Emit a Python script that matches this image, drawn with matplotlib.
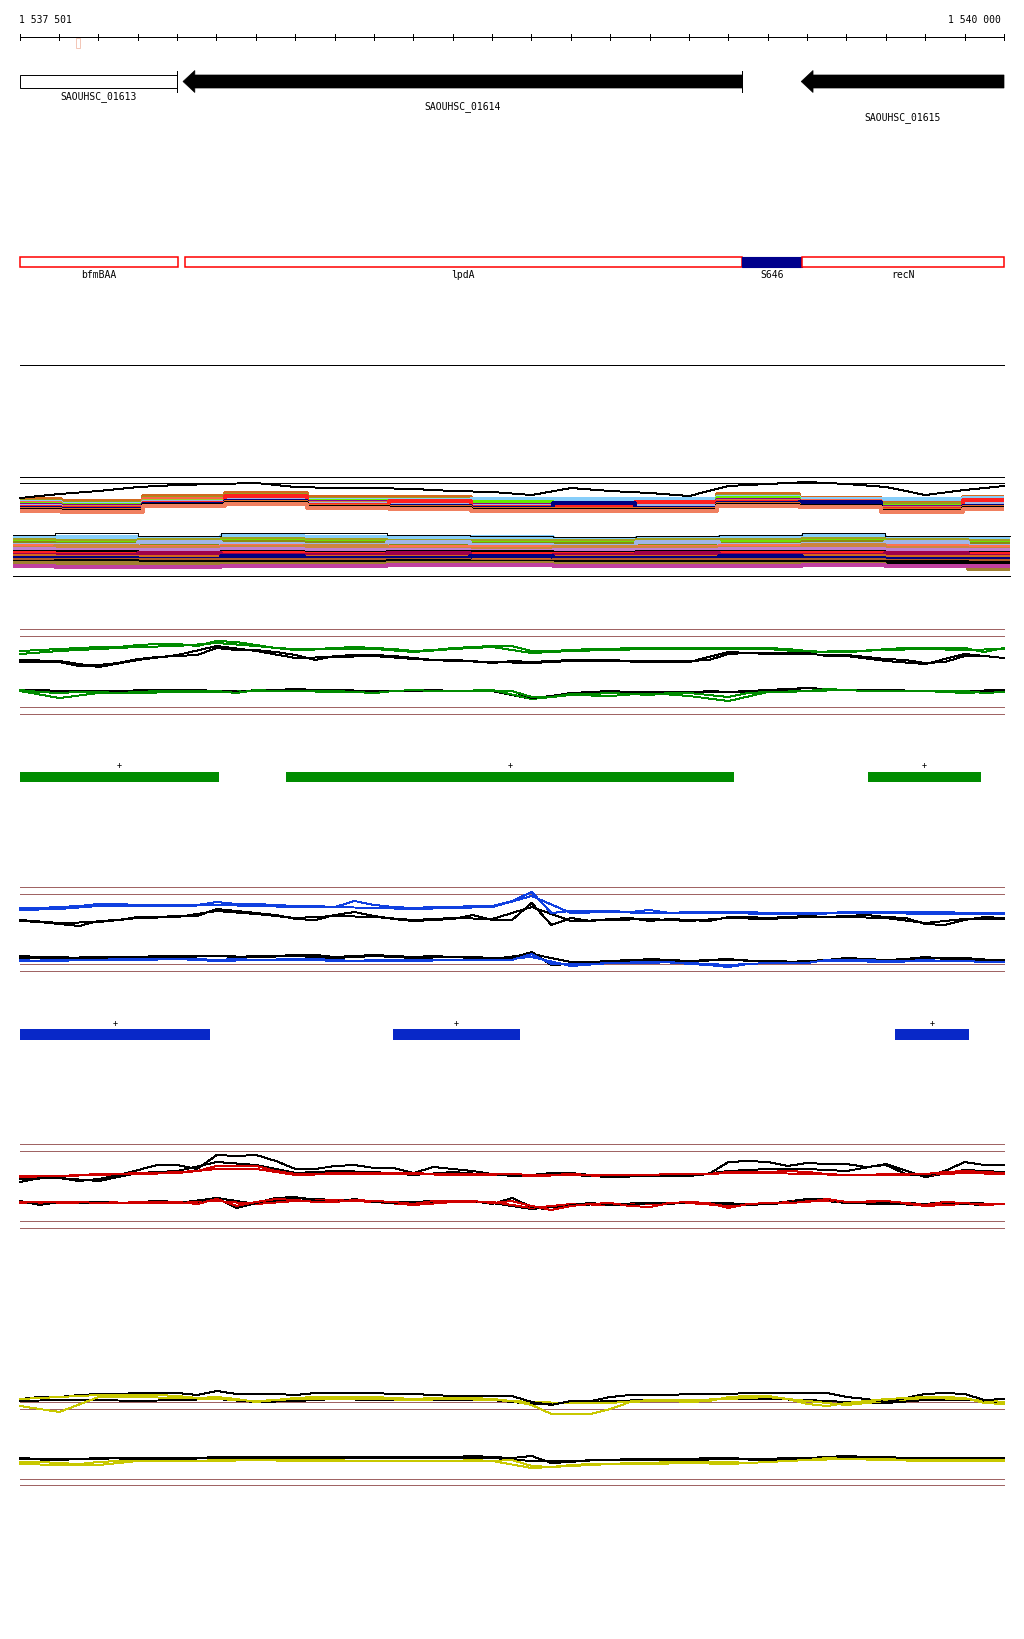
import numpy as np
import matplotlib
matplotlib.use("Agg")
import matplotlib.pyplot as plt
from matplotlib.patches import Polygon, Rectangle

plt.rcParams["lines.antialiased"] = False

# ---------------- data ----------------
START, END = 1537501, 1540000
ruler_ticks = [1537501] + list(range(1537600, 1540000, 100)) + [1540000]
ruler_labels = ["1 537 501", "1 540 000"]
marker_pos = 1537643

gene_names = ["SAOUHSC_01613", "SAOUHSC_01614", "SAOUHSC_01615"]
gene_start = [1537501, 1537915, 1539485]
gene_end = [1537900, 1539335, 1540000]
gene_kind = ["box", "arrow", "arrow"]
gene_endbar = [True, True, False]

feat_names = ["bfmBAA", "lpdA", "S646", "recN"]
feat_start = [1537501, 1537918, 1539335, 1539487]
feat_end = [1537902, 1539335, 1539487, 1540000]
feat_filled = [False, False, True, False]

green_seg_start = [1537501, 1538177, 1539655]
green_seg_end = [1538006, 1539314, 1539942]
blue_seg_start = [1537501, 1538448, 1539723]
blue_seg_end = [1537984, 1538771, 1539911]
seg_strand = ["+", "+", "+"]

# multi-sample band (row positions inside the track)
curve_top = [499, 495, 492, 488, 486, 485, 484, 488, 489, 489, 490, 492, 493,
             496, 489, 492, 494, 497, 487, 485, 483, 485, 488, 496, 491, 487]
up_chocolate = [500, 502, 497, 494, 498, 498, 500, 500, 500, 495, 499, 503, 498]
up_olive = [502, 504, 499, 496, 500, 500, 502, 502, 501, 497, 500, 505, 499]
up_skyblue = [503, 505, 500, 497, 501, 501, 500, 500, 500, 498, 500, 500, 499]
up_tomato = [504, 506, 500, 501, 502, 507, 504, 504, 508, 499, 502, 507, 505]
up_lawngreen = [505, 506, 503, 497, 502, 504, 503, 505, 506, 499, 503, 507, 503]
up_magenta = [506, 507, 505, 499, 503, 504, 506, 509, 505, 501, 506, 508, 503]
up_peru = [507, 508, 503, 500, 504, 505, 507, 507, 506, 502, 505, 509, 504]
up_steelblue = [507, 509, 503, 501, 505, 506, 507, 507, 507, 503, 505, 510, 505]
up_red = [508, 509, 504, 497, 506, 502, 508, 508, 503, 503, 506, 510, 501]
up_navy = [509, 510, 505, 502, 507, 507, 509, 504, 509, 504, 503, 511, 507]
up_orange = [510, 511, 506, 503, 507, 508, 510, 510, 510, 505, 507, 511, 508]
up_black = [511, 512, 506, 504, 508, 509, 511, 511, 511, 506, 507, 512, 509]
up_yellowgreen = [506, 508, 502, 499, 504, 504, 506, 506, 506, 501, 504, 509, 503]
up_salmon = [512, 513, 507, 505, 509, 510, 512, 512, 512, 507, 508, 513, 510]

lo_black_top = [536, 534, 537, 534, 534, 536, 537, 538, 537, 536, 534, 537, 537]
lo_skyblue = [539, 538, 539, 537, 538, 539, 538, 540, 539, 538, 537, 539, 540]
lo_olive = [541, 542, 541, 540, 541, 542, 542, 542, 541, 541, 540, 541, 542]
lo_lawngreen = [543, 544, 546, 542, 543, 546, 544, 544, 546, 543, 542, 546, 544]
lo_darkolive = [544, 545, 544, 543, 544, 545, 545, 545, 544, 545, 543, 544, 545]
lo_steelblue = [546, 546, 543, 545, 546, 543, 546, 547, 543, 546, 545, 543, 547]
lo_salmon = [547, 549, 548, 547, 549, 548, 548, 550, 548, 547, 548, 547, 548]
lo_peru = [549, 547, 549, 548, 547, 550, 550, 548, 549, 549, 546, 549, 550]
lo_orchid = [550, 551, 551, 550, 551, 551, 552, 551, 551, 550, 550, 551, 551]
lo_black = [553, 553, 554, 553, 554, 553, 553, 554, 553, 553, 553, 554, 554]
lo_red = [554, 555, 557, 554, 555, 557, 555, 555, 557, 554, 554, 557, 555]
lo_crimson = [556, 556, 554, 556, 556, 554, 557, 556, 554, 556, 556, 554, 557]
lo_chocolate = [557, 558, 558, 560, 558, 558, 560, 558, 558, 560, 557, 558, 558]
lo_navy = [559, 559, 560, 557, 559, 559, 557, 559, 559, 557, 559, 560, 560]
lo_sienna = [561, 561, 561, 561, 561, 561, 562, 561, 561, 561, 561, 562, 562]
lo_black2 = [563, 562, 563, 563, 563, 562, 563, 563, 563, 563, 563, 563, 564]
lo_olivebrown = [564, 564, 565, 565, 565, 564, 564, 565, 565, 565, 565, 567, 570]
lo_magenta = [567, 568, 568, 567, 567, 566, 566, 567, 567, 567, 566, 567, 567]

# coverage tracks: heights above track baseline (51-point and 26-point samples)
g_up_a = [63, 64, 65, 66, 67, 67, 69, 70, 70, 68, 73, 72, 69, 66, 65, 65, 66, 67, 66, 65, 63, 64, 66, 67, 68, 68,
          63, 63, 64, 65, 65, 66, 66, 66, 66, 66, 66, 66, 66, 65, 63, 62, 62, 63, 65, 66, 66, 66, 66, 62, 66]
g_up_b = [60, 63, 65, 67, 68, 71, 68, 64, 65, 65, 62, 65, 67, 61, 63, 64, 65, 65, 65, 65, 62, 63, 64, 65, 64, 65]
g_bk_a = [52, 52, 52, 48, 49, 51, 55, 57, 58, 59, 66, 64, 64, 62, 59, 54, 58, 59, 59, 58, 56, 54, 54, 53, 51, 53,
          52, 53, 54, 54, 54, 53, 53, 53, 53, 54, 60, 61, 61, 61, 61, 58, 59, 57, 55, 54, 51, 52, 58, 58, 56]
g_bk_b = [54, 53, 47, 54, 59, 68, 63, 56, 57, 58, 55, 53, 52, 51, 53, 53, 52, 52, 62, 60, 60, 58, 53, 50, 60, 56]
g_lo_a = [24, 22, 21, 22, 22, 21, 22, 23, 23, 23, 23, 21, 24, 23, 23, 23, 23, 22, 21, 23, 24, 23, 23, 23, 23, 23,
          17, 17, 20, 20, 21, 20, 19, 21, 21, 19, 17, 21, 22, 22, 23, 25, 24, 23, 23, 23, 23, 23, 23, 21, 22]
g_lo_b = [23, 16, 21, 21, 22, 22, 23, 23, 22, 23, 23, 23, 24, 15, 19, 18, 21, 18, 13, 22, 23, 24, 23, 23, 21, 23]
g_lk_a = [24, 24, 23, 23, 23, 22, 24, 24, 24, 24, 23, 22, 24, 24, 25, 24, 23, 23, 23, 23, 23, 24, 23, 23, 23, 23,
          16, 18, 21, 22, 23, 22, 22, 22, 21, 23, 22, 23, 24, 25, 26, 25, 24, 24, 24, 23, 23, 23, 23, 23, 23]
g_lk_b = [23, 22, 23, 23, 22, 23, 23, 24, 24, 23, 23, 23, 23, 15, 21, 22, 20, 22, 22, 23, 26, 24, 24, 23, 23, 24]

b_up_a = [63, 63, 64, 65, 67, 67, 66, 66, 66, 66, 69, 67, 67, 66, 65, 65, 64, 70, 66, 64, 63, 64, 64, 65, 65, 70,
          79, 58, 60, 60, 60, 59, 61, 58, 59, 59, 59, 59, 58, 58, 58, 58, 59, 59, 59, 59, 59, 59, 58, 58, 58]
b_up_b = [61, 62, 65, 65, 65, 66, 65, 64, 64, 63, 62, 63, 64, 75, 58, 59, 58, 58, 58, 57, 57, 58, 58, 57, 57, 57]
b_bk_a = [50, 49, 47, 45, 50, 51, 54, 54, 55, 55, 62, 60, 58, 56, 52, 51, 56, 59, 55, 52, 50, 51, 52, 56, 51, 51,
          68, 46, 53, 50, 52, 53, 50, 52, 51, 50, 54, 54, 53, 54, 55, 54, 55, 56, 54, 53, 47, 46, 51, 54, 53]
b_bk_b = [51, 48, 49, 53, 54, 60, 57, 53, 55, 54, 51, 53, 52, 64, 50, 51, 52, 50, 53, 52, 54, 54, 53, 48, 52, 52]
b_lo_a = [11, 10, 10, 11, 11, 12, 12, 12, 12, 12, 11, 12, 11, 11, 11, 12, 11, 10, 11, 11, 11, 11, 11, 11, 11, 11,
          17, 7, 7, 7, 8, 8, 8, 9, 7, 6, 4, 7, 8, 8, 8, 11, 11, 11, 10, 10, 11, 10, 10, 9, 9]
b_lo_b = [10, 11, 11, 11, 12, 10, 11, 12, 10, 10, 10, 11, 11, 14, 5, 8, 9, 8, 6, 8, 10, 10, 9, 10, 10, 10]
b_lk_a = [15, 14, 14, 13, 13, 14, 14, 15, 15, 15, 15, 14, 15, 15, 16, 16, 14, 15, 16, 15, 14, 15, 14, 14, 13, 13,
          19, 6, 7, 9, 10, 11, 11, 10, 10, 11, 12, 10, 9, 9, 10, 11, 13, 12, 11, 12, 14, 12, 12, 11, 11]
b_lk_b = [13, 13, 14, 13, 14, 15, 14, 15, 13, 15, 13, 14, 12, 17, 9, 9, 12, 10, 11, 10, 9, 12, 11, 13, 13, 10]

r_up_a = [52, 52, 52, 53, 54, 54, 55, 55, 56, 57, 62, 62, 62, 57, 54, 54, 55, 55, 55, 55, 55, 54, 54, 54, 54, 54,
          53, 53, 54, 53, 53, 53, 53, 54, 54, 54, 56, 56, 56, 57, 56, 54, 53, 53, 54, 54, 54, 56, 57, 56, 55]
r_up_b = [51, 52, 53, 54, 55, 59, 59, 53, 54, 54, 54, 53, 53, 52, 53, 52, 52, 53, 55, 55, 54, 53, 53, 53, 55, 54]
r_bk_a = [46, 50, 50, 47, 49, 53, 58, 63, 63, 59, 73, 72, 73, 67, 59, 59, 62, 63, 60, 60, 55, 61, 59, 57, 54, 52,
          53, 55, 55, 53, 52, 52, 52, 52, 52, 54, 66, 67, 66, 62, 65, 64, 64, 61, 63, 54, 52, 57, 66, 63, 63]
r_bk_b = [49, 50, 47, 55, 57, 66, 63, 55, 57, 56, 53, 56, 53, 52, 53, 51, 52, 52, 57, 59, 59, 57, 64, 51, 58, 56]
r_lo_a = [26, 26, 26, 26, 25, 25, 26, 26, 26, 24, 29, 22, 26, 29, 28, 26, 26, 28, 27, 26, 24, 27, 27, 27, 25, 27,
          22, 18, 22, 24, 25, 22, 21, 25, 26, 25, 20, 24, 25, 25, 26, 29, 26, 26, 27, 25, 23, 26, 25, 23, 24]
r_lo_b = [25, 25, 26, 25, 25, 27, 24, 27, 28, 26, 23, 26, 26, 20, 24, 23, 24, 25, 22, 24, 28, 26, 27, 22, 24, 24]
r_lk_a = [27, 23, 26, 26, 26, 25, 26, 27, 26, 24, 30, 20, 25, 30, 31, 27, 26, 29, 26, 25, 26, 27, 27, 27, 24, 30,
          21, 18, 23, 25, 23, 23, 25, 24, 26, 25, 25, 23, 24, 25, 29, 29, 25, 26, 26, 25, 24, 26, 24, 23, 24]
r_lk_b = [26, 26, 25, 25, 25, 30, 24, 30, 28, 27, 25, 27, 25, 19, 23, 24, 25, 25, 24, 24, 29, 25, 24, 23, 25, 24]

y_up_a = [86, 87, 88, 89, 90, 90, 90, 90, 89, 87, 88, 86, 83, 85, 87, 88, 88, 88, 88, 87, 86, 87, 87, 87, 86, 84,
          80, 71, 71, 71, 76, 83, 84, 84, 83, 84, 88, 89, 89, 86, 81, 79, 82, 84, 86, 87, 88, 88, 87, 82, 81]
y_up_b = [79, 73, 88, 88, 87, 86, 84, 86, 86, 86, 85, 86, 85, 83, 82, 82, 85, 85, 86, 88, 84, 80, 84, 87, 86, 83]
y_bk_a = [86, 88, 88, 90, 91, 91, 92, 92, 92, 90, 94, 91, 91, 91, 90, 92, 92, 92, 92, 91, 91, 90, 89, 89, 89, 89,
          83, 80, 84, 84, 88, 90, 90, 90, 91, 91, 91, 92, 92, 92, 92, 92, 88, 86, 83, 87, 91, 92, 91, 85, 86]
y_bk_b = [84, 85, 85, 84, 85, 86, 83, 84, 86, 85, 85, 85, 85, 81, 82, 84, 85, 85, 86, 86, 85, 83, 82, 85, 85, 83]
y_lo_a = [23, 23, 22, 21, 23, 24, 24, 24, 24, 24, 25, 25, 25, 25, 25, 25, 25, 24, 24, 24, 24, 24, 24, 25, 24, 25,
          19, 18, 20, 21, 21, 22, 22, 23, 23, 23, 23, 22, 23, 24, 25, 27, 26, 26, 26, 25, 25, 25, 25, 25, 25]
y_lo_b = [21, 20, 20, 24, 24, 24, 25, 24, 24, 24, 24, 24, 24, 17, 19, 21, 21, 22, 21, 23, 25, 26, 25, 24, 24, 24]
y_lk_a = [27, 26, 26, 26, 26, 27, 27, 27, 27, 27, 28, 28, 28, 28, 28, 28, 28, 28, 28, 28, 28, 28, 28, 29, 28, 27,
          29, 22, 23, 25, 25, 26, 26, 26, 26, 27, 27, 26, 26, 27, 27, 28, 29, 28, 28, 27, 27, 27, 27, 27, 27]
y_lk_b = [26, 25, 27, 26, 26, 27, 27, 26, 27, 27, 27, 27, 27, 24, 24, 25, 25, 25, 26, 25, 26, 27, 27, 26, 26, 26]

# ---------------- figure ----------------
W, H = 1024, 1640
fig = plt.figure(figsize=(W / 100, H / 100), dpi=100)
fig.patch.set_facecolor("white")

PX0, PX1 = 20, 1004
bpp = (END - START) / (PX1 - PX0)
XLIM = (START - PX0 * bpp, START + (W - PX0) * bpp)
MONO = "DejaVu Sans Mono"
FS = 7
LW1 = 0.7
BROWN = "#a06464"


def px_axes(top, bottom):
    ax = fig.add_axes([0, 1 - bottom / H, 1, (bottom - top) / H])
    ax.set_xlim(*XLIM)
    ax.axis("off")
    return ax


lay = px_axes(0, H)
lay.set_ylim(H, 0)

# ruler
lay.hlines(38, START, END, color="black", lw=LW1, antialiased=False)
lay.vlines(ruler_ticks, 35, 41, color="black", lw=LW1, antialiased=False)
lay.text(START - bpp, 20, ruler_labels[0], ha="left", va="center", family=MONO, fontsize=FS)
lay.text(END - 3 * bpp, 20, ruler_labels[1], ha="right", va="center", family=MONO, fontsize=FS)
lay.add_patch(Rectangle((marker_pos, 39), 4 * bpp, 10, fill=False, edgecolor="#f3c6b6", lw=0.7))

# genes
head = 30
label_rows = [97, 107, 118]
for name, s, e, kind, bar, ly in zip(gene_names, gene_start, gene_end, gene_kind, gene_endbar, label_rows):
    if kind == "box":
        lay.add_patch(Rectangle((s, 76), e - s, 13, facecolor="white", edgecolor="black", lw=LW1))
    else:
        pts = [(s, 82.5), (s + head, 71.5), (s + head, 76), (e, 76), (e, 89), (s + head, 89), (s + head, 93.5)]
        lay.add_patch(Polygon(pts, closed=True, facecolor="black", edgecolor="black", lw=0.5))
    if bar:
        lay.vlines(e, 72, 93, color="black", lw=LW1, antialiased=False)
    lay.text((s + e) / 2, ly, name, ha="center", va="center", family=MONO, fontsize=FS)

# annotation features
for name, s, e, filled in zip(feat_names, feat_start, feat_end, feat_filled):
    if filled:
        lay.add_patch(Rectangle((s, 258), e - s, 10, facecolor="#00008c", edgecolor="#00008c", lw=0.8))
    else:
        lay.add_patch(Rectangle((s + 1, 258), e - s - 2, 10, facecolor="white", edgecolor="#ff0000", lw=1.1))
    lay.text((s + e) / 2, 275, name, ha="center", va="center", family=MONO, fontsize=FS)

lay.hlines(366, START, END, color="black", lw=LW1, antialiased=False)

# multi-sample band track
band = px_axes(460, 590)
band.set_ylim(590, 460)
pos13 = np.linspace(START, END, 13)
pos13w = np.linspace(START - 7 * bpp, END + 6 * bpp, 13)
pos26 = np.linspace(START, END, 26)
pos51 = np.linspace(START, END, 51)
band.hlines([478, 484], START, END, color="black", lw=LW1, antialiased=False)
BLW = 1.45
upper_lines = [
    (up_chocolate, "#d2691e"), (up_olive, "#9a9a1e"), (up_skyblue, "#87cefa"), (up_tomato, "#ff6347"),
    (up_yellowgreen, "#9acd32"), (up_lawngreen, "#66ee00"), (up_magenta, "#8b008b"), (up_peru, "#cd853f"),
    (up_steelblue, "#a0b4e6"), (up_red, "#ff2020"), (up_navy, "#000080"), (up_orange, "#e06a20"),
    (up_black, "#000000"), (up_salmon, "#f08060"),
]
for vals, c in upper_lines:
    band.plot(pos13, vals, color=c, lw=BLW, drawstyle="steps-mid", solid_capstyle="butt")
band.plot(pos26, curve_top, color="black", lw=LW1)

lower_lines = [
    (lo_skyblue, "#87cefa"), (lo_olive, "#a0a020"), (lo_lawngreen, "#70e000"), (lo_darkolive, "#8a8a10"),
    (lo_steelblue, "#a0b4e6"), (lo_salmon, "#ff7050"), (lo_peru, "#cd853f"), (lo_orchid, "#c080d0"),
    (lo_black, "#000000"), (lo_red, "#ff2020"), (lo_crimson, "#a0004a"), (lo_chocolate, "#d2691e"),
    (lo_navy, "#000080"), (lo_sienna, "#b05a28"), (lo_black2, "#000000"), (lo_olivebrown, "#a08030"),
    (lo_magenta, "#c040a0"),
]
for vals, c in lower_lines:
    band.plot(pos13w, vals, color=c, lw=BLW, drawstyle="steps-mid", solid_capstyle="butt")
band.plot(pos13w, lo_black_top, color="black", lw=LW1, drawstyle="steps-mid")
band.hlines(577, pos13w[0], pos13w[-1], color="black", lw=LW1, antialiased=False)


def coverage(bottom_px, top_lines, color, up_a, up_b, bk_a, bk_b, lo_a, lo_b, lk_a, lk_b):
    ax = px_axes(bottom_px - 100, bottom_px + 5)
    ax.set_ylim(-5, 100)
    ax.hlines(top_lines, START, END, color=BROWN, lw=LW1, antialiased=False)
    ax.plot(pos26, bk_b, color="black", lw=LW1)
    ax.plot(pos26, up_b, color=color, lw=LW1)
    ax.plot(pos51, bk_a, color="black", lw=LW1)
    ax.plot(pos51, up_a, color=color, lw=LW1)
    ax.plot(pos26, lk_b, color="black", lw=LW1)
    ax.plot(pos26, lo_b, color=color, lw=LW1)
    ax.plot(pos51, lk_a, color="black", lw=LW1)
    ax.plot(pos51, lo_a, color=color, lw=LW1)


GREEN = "#008c00"
BLUE_T = "#1040e0"
BLUE_B = "#0828c8"
RED = "#d00000"
YELLOW = "#c8c800"

coverage(715, [85, 78, 7, 0], GREEN, g_up_a, g_up_b, g_bk_a, g_bk_b, g_lo_a, g_lo_b, g_lk_a, g_lk_b)
coverage(972, [84, 77, 7, 0], BLUE_T, b_up_a, b_up_b, b_bk_a, b_bk_b, b_lo_a, b_lo_b, b_lk_a, b_lk_b)
coverage(1229, [84, 77, 7, 0], RED, r_up_a, r_up_b, r_bk_a, r_bk_b, r_lo_a, r_lo_b, r_lk_a, r_lk_b)
coverage(1486, [83, 76, 6, 0], YELLOW, y_up_a, y_up_b, y_bk_a, y_bk_b, y_lo_a, y_lo_b, y_lk_a, y_lk_b)

# segment tracks
for s, e, st in zip(green_seg_start, green_seg_end, seg_strand):
    lay.add_patch(Rectangle((s, 773), e - s, 10, facecolor=GREEN, edgecolor="none"))
    lay.text((s + e) / 2, 766, st, ha="center", va="center", family=MONO, fontsize=6)
for s, e, st in zip(blue_seg_start, blue_seg_end, seg_strand):
    lay.add_patch(Rectangle((s, 1030), e - s, 11, facecolor=BLUE_B, edgecolor="none"))
    lay.text((s + e) / 2, 1023, st, ha="center", va="center", family=MONO, fontsize=6)

fig.savefig("out.png", dpi=100, facecolor="white")
